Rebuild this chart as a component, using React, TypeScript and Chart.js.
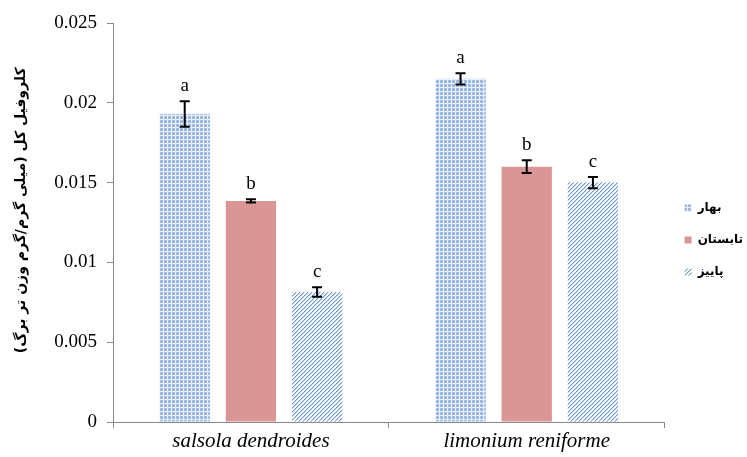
import React, { useEffect, useRef } from "react";
import { Chart, registerables } from "chart.js";

Chart.register(...registerables);

const categories = ["salsola dendroides", "limonium reniforme"];
const seriesNames = ["بهار", "تابستان", "پاییز"];
const springValues = [0.0193, 0.0215];
const summerValues = [0.01385, 0.016];
const autumnValues = [0.00815, 0.015];
const springErrors = [0.0008, 0.00035];
const summerErrors = [0.0001, 0.0004];
const autumnErrors = [0.0003, 0.00035];
const springLetters = ["a", "a"];
const summerLetters = ["b", "b"];
const autumnLetters = ["c", "c"];
const yTickValues = [0, 0.005, 0.01, 0.015, 0.02, 0.025];
const yTickLabels = ["0", "0.005", "0.01", "0.015", "0.02", "0.025"];
const yTitle = "کلروفیل کل (میلی گرم/گرم وزن تر برگ)";

function makeGridPattern(): CanvasPattern | string {
  const c = document.createElement("canvas");
  c.width = 4;
  c.height = 4;
  const g = c.getContext("2d");
  if (!g) return "#9dbbe3";
  g.fillStyle = "#a3c0e8";
  g.fillRect(0, 0, 4, 4);
  g.fillStyle = "#e6eef9";
  g.fillRect(0, 3, 4, 1);
  g.fillRect(3, 0, 1, 4);
  g.fillStyle = "#7099d3";
  g.fillRect(1, 1, 1, 1);
  const p = g.createPattern(c, "repeat");
  return p || "#9dbbe3";
}

function makeHatchPattern(): CanvasPattern | string {
  const c = document.createElement("canvas");
  c.width = 4;
  c.height = 4;
  const g = c.getContext("2d");
  if (!g) return "#a9c2e6";
  g.fillStyle = "#ffffff";
  g.fillRect(0, 0, 4, 4);
  g.fillStyle = "#6b95d4";
  g.fillRect(3, 0, 1, 1);
  g.fillRect(2, 1, 1, 1);
  g.fillRect(1, 2, 1, 1);
  g.fillRect(0, 3, 1, 1);
  g.fillStyle = "#c2d5f0";
  g.fillRect(0, 0, 1, 1);
  g.fillRect(3, 1, 1, 1);
  g.fillRect(2, 2, 1, 1);
  g.fillRect(1, 3, 1, 1);
  const p = g.createPattern(c, "repeat");
  return p || "#a9c2e6";
}

const errorPlugin = {
  id: "errorBarsLetters",
  afterDatasetsDraw(chart: any) {
    const ctx = chart.ctx;
    const yScale = chart.scales.y;
    const errs = [springErrors, summerErrors, autumnErrors];
    const vals = [springValues, summerValues, autumnValues];
    const letters = [springLetters, summerLetters, autumnLetters];
    ctx.save();
    chart.data.datasets.forEach((_ds: any, i: number) => {
      const meta = chart.getDatasetMeta(i);
      meta.data.forEach((el: any, j: number) => {
        const v = vals[i][j];
        const e = errs[i][j];
        const x = el.x;
        const yTop = yScale.getPixelForValue(v + e);
        const yBot = yScale.getPixelForValue(v - e);
        ctx.strokeStyle = "#000";
        ctx.lineWidth = 2;
        ctx.beginPath();
        ctx.moveTo(x, yTop);
        ctx.lineTo(x, yBot);
        ctx.moveTo(x - 5, yTop);
        ctx.lineTo(x + 5, yTop);
        ctx.moveTo(x - 5, yBot);
        ctx.lineTo(x + 5, yBot);
        ctx.stroke();
        ctx.fillStyle = "#000";
        ctx.font = "19px 'Liberation Serif'";
        ctx.textAlign = "center";
        ctx.textBaseline = "alphabetic";
        ctx.fillText(letters[i][j], x, yTop - 10);
      });
    });
    ctx.restore();
  },
};

export default function App() {
  const ref = useRef<HTMLCanvasElement | null>(null);
  useEffect(() => {
    document.body.style.margin = "0";
    const canvas = ref.current;
    if (!canvas) return;
    const chart = new Chart(canvas, {
      type: "bar",
      data: {
        labels: categories,
        datasets: [
          { label: seriesNames[0], data: springValues, backgroundColor: makeGridPattern() as any, borderWidth: 0 },
          { label: seriesNames[1], data: summerValues, backgroundColor: "#d99694", borderWidth: 0 },
          { label: seriesNames[2], data: autumnValues, backgroundColor: makeHatchPattern() as any, borderWidth: 0 },
        ],
      },
      options: {
        responsive: false,
        animation: false,
        devicePixelRatio: 1,
        layout: { padding: { top: 23, right: -6, left: 0, bottom: 0 } },
        datasets: { bar: { categoryPercentage: 0.72, barPercentage: 0.76 } },
        plugins: {
          tooltip: { enabled: false },
          legend: {
            position: "right",
            align: "center",
            labels: {
              boxWidth: 7,
              boxHeight: 7,
              padding: 20,
              color: "#000",
              font: { family: "'DejaVu Sans'", size: 12, weight: "bold" },
            },
          },
        },
        scales: {
          x: {
            grid: { display: true, drawOnChartArea: false, drawTicks: true, tickLength: 6, color: "#888", offset: true },
            border: { display: true, color: "#888", width: 1 },
            ticks: {
              color: "#000",
              padding: 1,
              font: { family: "'Liberation Serif'", size: 21, style: "italic" },
            },
            afterFit: (s: any) => {
              s.height = 35;
            },
          },
          y: {
            min: 0,
            max: 0.025,
            afterBuildTicks: (s: any) => {
              s.ticks = yTickValues.map((v) => ({ value: v }));
            },
            grid: { display: true, drawOnChartArea: false, drawTicks: true, tickLength: 6, color: "#888" },
            border: { display: true, color: "#888", width: 1 },
            ticks: {
              color: "#000",
              padding: 10,
              font: { family: "'Liberation Serif'", size: 19 },
              callback: (_v: any, idx: number) => yTickLabels[idx],
            },
            title: {
              display: true,
              text: "     " + yTitle,
              color: "#000",
              padding: { top: 13, bottom: 0 },
              font: { family: "'DejaVu Sans'", size: 14, weight: "bold" },
            },
            afterFit: (s: any) => {
              s.width = 113;
            },
          },
        },
      },
      plugins: [errorPlugin],
    });
    return () => chart.destroy();
  }, []);
  return <canvas ref={ref} width={747} height={457} style={{ display: "block" }} />;
}
